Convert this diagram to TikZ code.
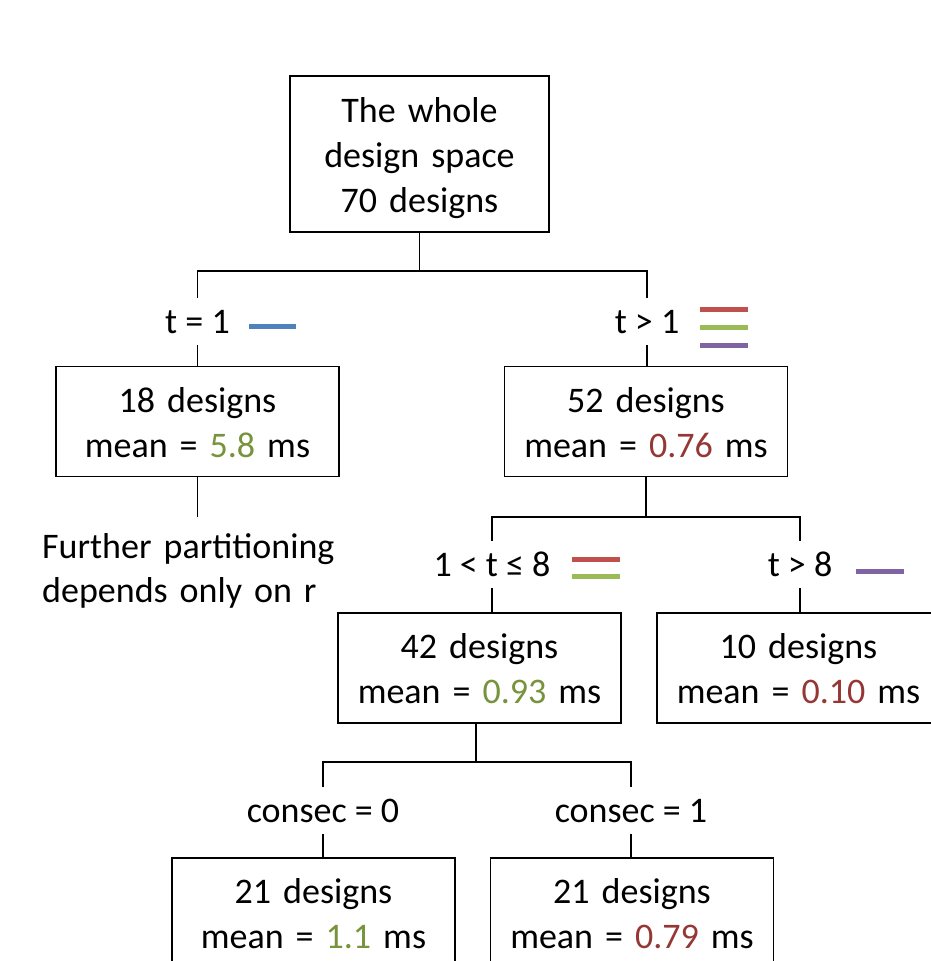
\documentclass[tikz,border=0pt]{standalone}
\usepackage{fontspec}
\setmainfont{Carlito}
\definecolor{barblue}{HTML}{4F81BD}
\definecolor{barred}{HTML}{C0504D}
\definecolor{bargreen}{HTML}{9BBB59}
\definecolor{barpurple}{HTML}{8064A2}
\definecolor{tgreen}{HTML}{77933C}
\definecolor{tred}{HTML}{953735}
\newcommand{\txtfont}{\fontsize{36pt}{45pt}\selectfont}
\begin{document}
\begin{tikzpicture}[x=1pt,y=-1pt,
  box/.style={draw, line width=1.8pt, inner sep=0pt, minimum width=283pt,
    minimum height=110pt, text width=270pt, align=center,
    text height=26pt, text depth=45pt, font=\txtfont},
  cond/.style={anchor=base, inner xsep=0pt, inner ysep=12pt,
    text height=23pt, text depth=0pt, font=\txtfont},
  link/.style={line width=1.8pt},
  bar/.style={line width=5pt}]
\useasboundingbox (0,0) rectangle (931,961);
\clip (0,0) rectangle (931,961);

% partition boxes
\node[box, minimum width=259pt, text width=240pt, minimum height=156pt, text depth=90pt]
  (root) at (419.5,154) {The whole\\design space\\70 designs};
\node[box] (n18) at (197.5,421.5) {18 designs\\mean = \textcolor{tgreen}{5.8} ms};
\node[box] (n52) at (646,421.5) {52 designs\\mean = \textcolor{tred}{0.76} ms};
\node[box] (n42) at (479.5,668) {42 designs\\mean = \textcolor{tgreen}{0.93} ms};
\node[box] (n10) at (798.5,668) {10 designs\\mean = \textcolor{tred}{0.10} ms};
\node[box] (k0) at (313.5,913) {21 designs\\mean = \textcolor{tgreen}{1.1} ms};
\node[box] (k1) at (632,913) {21 designs\\mean = \textcolor{tred}{0.79} ms};

% split conditions
\node[cond] (ct1) at (197.5,333) {t = 1};
\node[cond] (ctg1) at (647,333) {t > 1};
\node[cond] (ct18) at (492,576) {1 < t ≤ 8};
\node[cond] (ct8) at (800,576) {t > 8};
\node[cond] (cc0) at (323,822) {consec = 0};
\node[cond] (cc1) at (631,822) {consec = 1};

\node[anchor=base west, inner xsep=0pt, inner ysep=18pt, text width=310pt,
  align=left, text height=23pt, text depth=44pt, font=\fontsize{36pt}{44pt}\selectfont]
  (further) at (42,558) {Further partitioning\\depends only on r};

% tree connectors
\coordinate (h1) at (0,271);
\coordinate (h2) at (0,517);
\coordinate (h3) at (0,762);
\draw[link] (root.south) -- (root.south |- h1);
\draw[link] (ct1.north) |- (h1 -| ctg1.north) -- (ctg1.north);
\draw[link] (ct1.south) -- (ct1.south |- n18.north);
\draw[link] (ctg1.south) -- (ctg1.south |- n52.north);
\draw[link] (n18.south) -- (n18.south |- further.north);
\draw[link] (n52.south) -- (n52.south |- h2);
\draw[link] (ct18.north) |- (h2 -| ct8.north) -- (ct8.north);
\draw[link] (ct18.south) -- (ct18.south |- n42.north);
\draw[link] (ct8.south) -- (ct8.south |- n10.north);
\draw[link] ([xshift=-3.5pt]n42.south) -- ([xshift=-3.5pt]n42.south |- h3);
\draw[link] (cc0.north) |- (h3 -| cc1.north) -- (cc1.north);
\draw[link] (cc0.south) -- (cc0.south |- k0.north);
\draw[link] (cc1.south) -- (cc1.south |- k1.north);

% colour keys beside the conditions
\draw[bar, barblue] (249,326) -- (296,326);
\draw[bar, barred] (700,309) -- (748,309);
\draw[bar, bargreen] (700,327) -- (748,327);
\draw[bar, barpurple] (700,345) -- (748,345);
\draw[bar, barred] (572,559) -- (620,559);
\draw[bar, bargreen] (572,576) -- (620,576);
\draw[bar, barpurple] (856,571) -- (904,571);
\end{tikzpicture}
\end{document}
